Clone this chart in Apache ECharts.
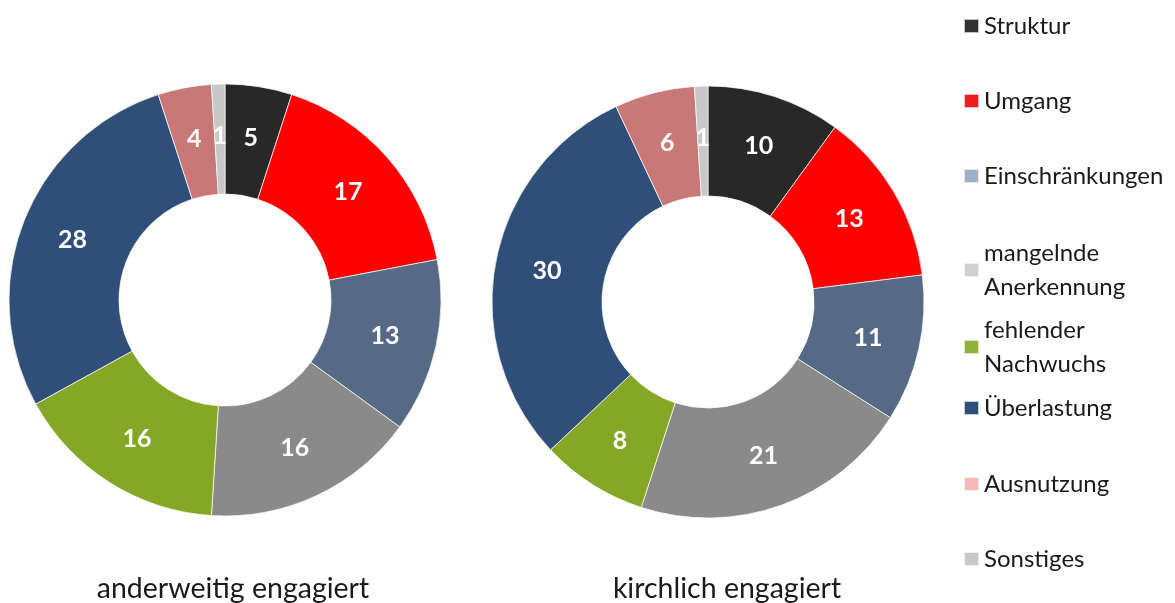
<!DOCTYPE html>
<html>
<head>
<meta charset="utf-8">
<script src="https://cdn.jsdelivr.net/npm/echarts@6/dist/echarts.min.js"></script>
<style>
  html, body { margin: 0; padding: 0; background: #fff; }
  #chart { width: 1175px; height: 603px; }
</style>
</head>
<body>
<div id="chart"></div>
<script>
  const categories = ['Struktur', 'Umgang', 'Einschränkungen', 'mangelnde\nAnerkennung',
    'fehlender\nNachwuchs', 'Überlastung', 'Ausnutzung', 'Sonstiges']
  const anderweitig = [5, 17, 13, 16, 16, 28, 4, 1]
  const kirchlich = [10, 13, 11, 21, 8, 30, 6, 1]
  const groupTitles = ['anderweitig engagiert', 'kirchlich engagiert']

  const colors = ['#282828', '#ff0000', '#566a86', '#8a8a8a', '#84a825', '#2f4f78', '#c97878', '#c8c8c8']
  const legendColors = ['#333333', '#ee1c1c', '#9fb0c6', '#cfcfcf', '#8fb33a', '#2f4f78', '#f4b8b8', '#c8c8c8']
  const legendTops = [4, 79, 154, 231, 308, 386, 462, 537]

  const font = 'Lato, "Open Sans", sans-serif'
  let myChart = echarts.init(document.getElementById('chart'))

  function buildData (values) {
    let data = []
    categories.forEach((item, index) => {
      data.push({
        name: item,
        value: values[index],
        itemStyle: { color: colors[index] }
      })
    })
    return data
  }

  function ring (name, values, center) {
    return {
      name: name,
      type: 'pie',
      radius: [106, 216],
      center: center,
      startAngle: 90,
      clockwise: true,
      avoidLabelOverlap: false,
      label: {
        show: true,
        position: 'inside',
        formatter: '{c}',
        color: '#ffffff',
        fontFamily: font,
        fontWeight: 'bold',
        fontSize: 25
      },
      labelLine: { show: false },
      itemStyle: {
        borderColor: 'rgba(255,255,255,0.7)',
        borderWidth: 1
      },
      emphasis: { disabled: true },
      data: buildData(values)
    }
  }

  let legends = categories.map((item, index) => ({
    data: [{ name: item, itemStyle: { color: legendColors[index] } }],
    orient: 'vertical',
    left: 958,
    top: legendTops[index],
    itemWidth: 15,
    itemHeight: 14,
    itemGap: 8,
    icon: 'rect',
    selectedMode: false,
    textStyle: {
      fontFamily: font,
      fontSize: 24,
      color: '#1a1a1a',
      lineHeight: 34,
      padding: [0, 0, 0, 0]
    }
  }))

  let titleStyle = { fontFamily: font, fontWeight: 'normal', fontSize: 28.5, color: '#1a1a1a' }

  let option = {
    animation: false,
    title: [
      { text: groupTitles[0], left: 228, top: 569, textAlign: 'center', textStyle: titleStyle },
      { text: groupTitles[1], left: 722, top: 569, textAlign: 'center', textStyle: titleStyle }
    ],
    legend: legends,
    series: [
      ring(groupTitles[0], anderweitig, [225, 300]),
      ring(groupTitles[1], kirchlich, [708, 302])
    ]
  }
  myChart.setOption(option)
</script>
</body>
</html>
